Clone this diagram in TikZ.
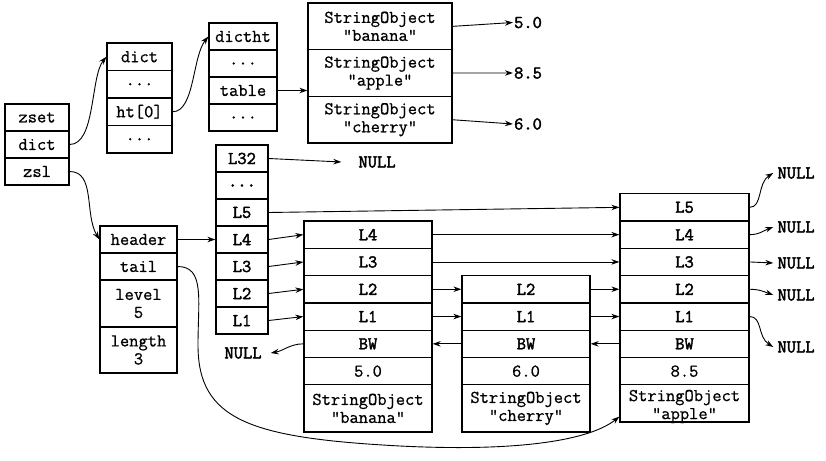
\documentclass[tikz,border=0pt]{standalone}
\usepackage{fontspec}
\setmonofont{Latin Modern Mono}[FakeBold=0.8, BoldFont={Latin Modern Mono}, BoldFeatures={FakeBold=2.2}]
\usetikzlibrary{arrows.meta}
\begin{document}
\begin{tikzpicture}[x=1pt,y=-1pt,
  txt/.style={font=\fontsize{18}{18}\selectfont\ttfamily},
  cell/.style={txt, draw, line width=1.3pt, inner sep=0pt, align=center},
  lvl/.style={cell, font=\fontsize{18}{18}\selectfont\ttfamily\bfseries},
  lbl/.style={inner sep=1pt, font=\fontsize{18}{18}\selectfont\ttfamily\bfseries},
  zc/.style={cell, minimum width=64pt, minimum height=27pt},
  dc/.style={cell, minimum width=65pt, minimum height=27.5pt},
  htc/.style={cell, minimum width=68pt, minimum height=27pt},
  soc/.style={cell, minimum width=144pt, minimum height=46.7pt},
  lc/.style={lvl, minimum width=52pt, minimum height=27pt},
  hc/.style={cell, minimum width=77pt, minimum height=27pt},
  bc/.style={cell, minimum width=128pt, minimum height=27.3pt},
  bl/.style={bc, font=\fontsize{18}{18}\selectfont\ttfamily\bfseries},
  ac/.style={cell, minimum width=129pt, minimum height=27.3pt},
  al/.style={ac, font=\fontsize{18}{18}\selectfont\ttfamily\bfseries},
  conn/.style={line width=0.9pt, -{Stealth[length=8pt,width=5.5pt]}},
]
\useasboundingbox (0,0) rectangle (826,460);
% zset
\node[zc] (zset) at (37,117.5) {zset};
\node[zc] (zdict) at (37,144.5) {dict};
\node[zc] (zsl) at (37,171.5) {zsl};
% dict
\node[dc] (ddict) at (139.5,56.75) {dict};
\node[dc] (dd1) at (139.5,84.25) {...};
\node[dc] (dht) at (139.5,111.75) {ht[0]};
\node[dc] (dd2) at (139.5,139.25) {...};
% dictht
\node[htc] (tdictht) at (243,36.5) {dictht};
\node[htc] (td1) at (243,63.5) {...};
\node[htc] (ttable) at (243,90.5) {table};
\node[htc] (td2) at (243,117.5) {...};
% string objects (dict)
\node[soc] (so1) at (380,26.35) {StringObject\\"banana"};
\node[soc] (so2) at (380,73.05) {StringObject\\"apple"};
\node[soc] (so3) at (380,119.75) {StringObject\\"cherry"};
\node[lbl] (v1) at (528,22.5) {5.0};
\node[lbl] (v2) at (528,73) {8.5};
\node[lbl] (v3) at (528,124) {6.0};
% header levels
\node[lc] (hl32) at (242,158.5) {L32};
\node[lc] (hldots) at (242,185.5) {...};
\node[lc] (hl5) at (242,212.5) {L5};
\node[lc] (hl4) at (242,239.5) {L4};
\node[lc] (hl3) at (242,266.5) {L3};
\node[lc] (hl2) at (242,293.5) {L2};
\node[lc] (hl1) at (242,320.5) {L1};
\node[lbl] (null32) at (377,162) {NULL};
% zskiplist
\node[hc] (header) at (138.5,239.5) {header};
\node[hc] (tail) at (138.5,266.5) {tail};
\node[hc, minimum height=47pt] (level) at (138.5,303.5) {level\\5};
\node[hc, minimum height=46pt] (length) at (138.5,350) {length\\3};
% banana
\node[bl] (bl4) at (368,234.65) {L4};
\node[bl] (bl3) at (368,261.95) {L3};
\node[bl] (bl2) at (368,289.25) {L2};
\node[bl] (bl1) at (368,316.55) {L1};
\node[bl] (bbw) at (368,343.85) {BW};
\node[bc] (bsc) at (368,371.15) {5.0};
\node[bc, minimum height=47.2pt] (bstr) at (368,408.4) {StringObject\\"banana"};
% cherry
\node[bl] (cl2) at (526,289.25) {L2};
\node[bl] (cl1) at (526,316.55) {L1};
\node[bl] (cbw) at (526,343.85) {BW};
\node[bc] (csc) at (526,371.15) {6.0};
\node[bc, minimum height=47.2pt] (cstr) at (526,408.4) {StringObject\\"cherry"};
% apple
\node[al] (al5) at (684.5,207.35) {L5};
\node[al] (al4) at (684.5,234.65) {L4};
\node[al] (al3) at (684.5,261.95) {L3};
\node[al] (al2) at (684.5,289.25) {L2};
\node[al] (al1) at (684.5,316.55) {L1};
\node[al] (abw) at (684.5,343.85) {BW};
\node[ac] (asc) at (684.5,371.15) {8.5};
\node[ac, minimum height=37.2pt] (astr) at (684.5,403.4) {};
\node[txt, align=center, inner sep=0pt] (astrtxt) at (684.5,406.5) {StringObject\\"apple"};
% NULLs
\node[lbl] (nr5) at (796,173) {NULL};
\node[lbl] (nr4) at (796,227) {NULL};
\node[lbl] (nr3) at (796,263) {NULL};
\node[lbl] (nr2) at (796,295) {NULL};
\node[lbl] (nr1) at (796,347) {NULL};
\node[lbl] (nullL) at (243,353) {NULL};
% connectors
\draw[conn] (zdict.east) .. controls +(26,0) and +(-16,20) .. (ddict.west);
\draw[conn] (dht.east) .. controls +(22,0) and +(-16,20) .. (tdictht.west);
\draw[conn] (ttable.east) -- (ttable.east -| so2.west);
\draw[conn] (so1.east) -- (v1.west);
\draw[conn] (so2.east) -- (v2.west);
\draw[conn] (so3.east) -- (v3.west);
\draw[conn] (zsl.east) .. controls +(26,0) and +(-15,-25) .. (header.west);
\draw[conn] (header.east) -- (hl4.west);
\draw[conn] (hl32.east) -- ([xshift=-16pt]null32.west);
\draw[conn] (hl5.east) -- (al5.west);
\draw[conn] (hl4.east) -- (bl4.west);
\draw[conn] (hl3.east) -- (bl3.west);
\draw[conn] (hl2.east) -- (bl2.west);
\draw[conn] (hl1.east) -- (bl1.west);
\draw[conn] (bl4.east) -- (al4.west);
\draw[conn] (bl3.east) -- (al3.west);
\draw[conn] (bl2.east) -- (cl2.west);
\draw[conn] (bl1.east) -- (cl1.west);
\draw[conn] (cl2.east) -- (al2.west);
\draw[conn] (cl1.east) -- (al1.west);
\draw[conn] (abw.west) -- (cbw.east);
\draw[conn] (cbw.west) -- (bbw.east);
\draw[conn] (bbw.west) to[out=180,in=10] ([xshift=8pt]nullL.east);
\draw[conn] (al5.east) .. controls +(13,0) and +(-16,10) .. ([xshift=-3pt]nr5.west);
\draw[conn] (al4.east) to[out=0,in=200] ([xshift=-3pt]nr4.west);
\draw[conn] (al3.east) -- ([xshift=-3pt]nr3.west);
\draw[conn] (al2.east) to[out=0,in=160] ([xshift=-3pt]nr2.west);
\draw[conn] (al1.east) .. controls +(13,0) and +(-16,-10) .. ([xshift=-3pt]nr1.west);
\draw[conn] (tail.east) .. controls (205,266.5) and (198,300) .. (198,345)
  .. controls (198,420) and (250,438) .. (400,446)
  .. controls (520,452) and (590,440) .. ([yshift=6pt]astr.south west);
\end{tikzpicture}
\end{document}
